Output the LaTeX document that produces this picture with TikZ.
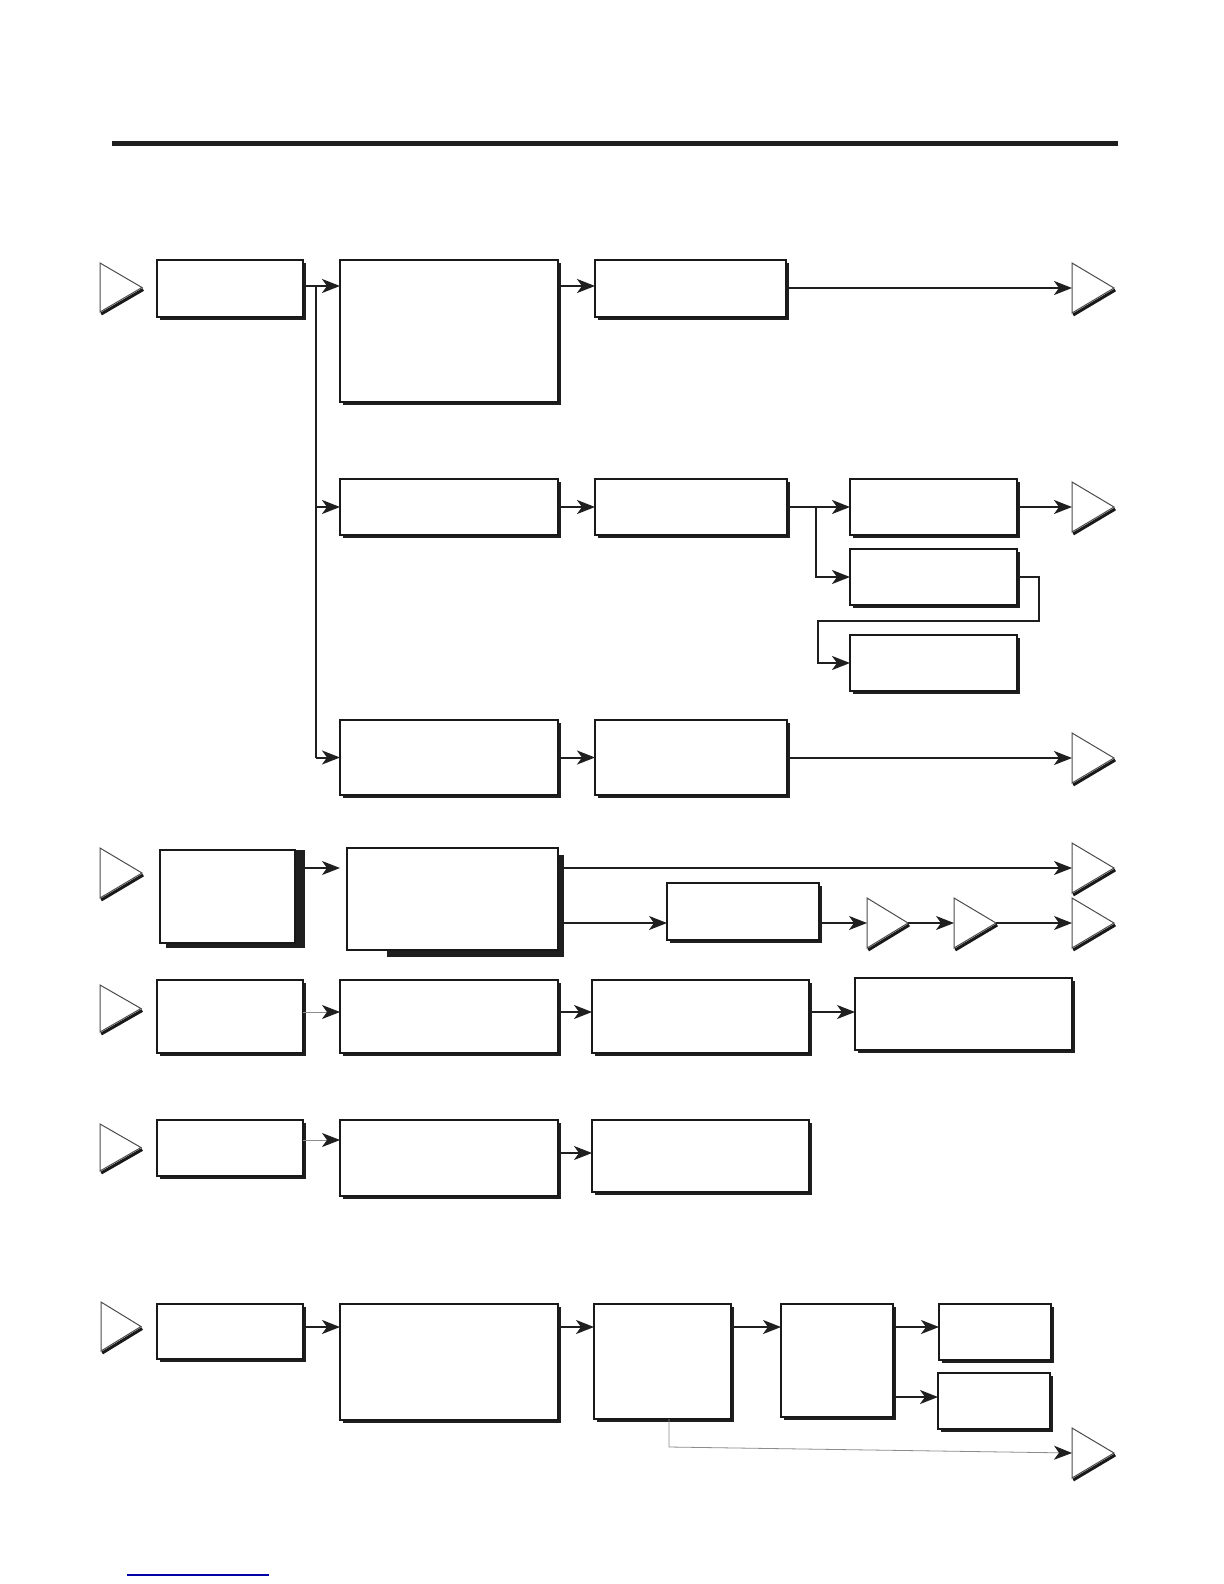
\documentclass[tikz,border=0pt]{standalone}
\usetikzlibrary{arrows.meta,shadows,calc}
\newcommand\mybox[6][box]{\node[#1, minimum width={(#5-#3)*0.5pt}, minimum height={(#6-#4)*0.5pt}] (#2) at ({(#3+#5)/2},{(#4+#6)/2}) {};}
\newcommand\mytri[5]{%
  \coordinate (#1) at (#2,{(#3+#5)/2});
  \coordinate (#1-tip) at (#4,{(#3+#5)/2});
  \draw[line width=1.5pt, black!90, xshift=0.6pt, yshift=-1pt] (#2,#5) -- (#4,{(#3+#5)/2});
  \filldraw[fill=white, draw=black!70, line width=0.5pt] (#2,#3) -- (#4,{(#3+#5)/2}) -- (#2,#5) -- cycle;}
\begin{document}
\begin{tikzpicture}[x=0.5pt,y=-0.5pt,
  box/.style={draw=black!90, line width=0.6pt, fill=white, inner sep=0pt, outer sep=0pt,
    drop shadow={shadow xshift=1.7pt, shadow yshift=-1.7pt, fill=black!88, opacity=1}},
  plain/.style={draw=black!90, line width=0.6pt, fill=white, inner sep=0pt, outer sep=0pt},
  conn/.style={line width=1pt, draw=black!88},
  arr/.style={conn, -{Stealth[length=9pt,width=7pt,inset=2.5pt]}},
  arrthin/.style={line width=0.6pt, draw=black!88, -{Stealth[length=9pt,width=7pt,inset=2.5pt]}},
  greyarr/.style={line width=0.4pt, draw=black!45, -{Stealth[length=9pt,width=7pt,inset=2.5pt,black!88]}}]
\useasboundingbox (0,0) rectangle (1224,1584);
\fill[white] (0,0) rectangle (1224,1584);

% top rule
\draw[line width=2.5pt, black!88] (112,143.5) -- (1118,143.5);

% ---------- row 1 ----------
\mytri{t1}{100}{263}{142}{312}
\mybox{b11}{157}{260}{303}{317}
\mybox{b12}{340}{260}{558}{402}
\mybox{b13}{595}{260}{786}{317}
\mytri{t1o}{1072}{263}{1114}{313}

% ---------- row 2 ----------
\mybox{b21}{340}{479}{558}{535}
\mybox{b22}{595}{479}{787}{535}
\mybox{b23}{850}{479}{1017}{535}
\mybox{b24}{850}{549}{1017}{605}
\mybox{b25}{850}{635}{1017}{691}
\mytri{t2}{1072}{482}{1114}{532}

% ---------- row 3 ----------
\mybox{b31}{340}{720}{558}{795}
\mybox{b32}{595}{720}{787}{795}
\mytri{t3}{1072}{733}{1114}{783}

% connectors rows 1-3
\coordinate (J) at (316,286);
\draw[arr] (b11.east |- J) -- (b12.west |- J);
\draw[conn] (J) -- (J |- b31.west);
\draw[arr] (J |- b21.west) -- (b21.west);
\draw[arr] (J |- b31.west) -- (b31.west);
\draw[arr] (b12.east |- J) -- (b13.west |- J);
\draw[arr] (b13.east |- t1o) -- (t1o);

\coordinate (K) at (816,507);
\coordinate (L1) at (1039,621);
\coordinate (L2) at (818,621);
\draw[arr] (b21.east) -- (b22.west);
\draw[arr] (b22.east) -- (b23.west);
\draw[arr] (K) |- (b24.west);
\draw[arr] (b23.east) -- (t2);
\draw[arr] (b24.east) -| (L1) -- (L2) |- (b25.west);

\draw[arr] (b31.east) -- (b32.west);
\draw[arr] (b32.east |- t3) -- (t3);

% ---------- row 4 ----------
\mytri{t4}{100}{848}{142}{898}
\fill[black!88] (166,850) rectangle (305,948);
\mybox[plain]{b41}{160}{850}{295}{943}
\fill[black!88] (387,855) rectangle (564,957);
\mybox[plain]{b42}{347}{848}{558}{950}
\mybox{b43}{667}{883}{819}{940}
\mytri{t5}{1072}{843}{1114}{893}
\mytri{t6}{867}{898}{908}{948}
\mytri{t7}{954}{898}{996}{948}
\mytri{t8}{1072}{898}{1114}{948}
\coordinate (a4) at (340,868);
\draw[arrthin] (b41.east |- a4) -- (a4);
\draw[arrthin] (b42.east |- t5) -- (t5);
\draw[arrthin] (b42.east |- t6) -- (b43.west |- t6);
\draw[arrthin] (b43.east |- t6) -- (t6);
\draw[arrthin] (t6-tip) -- (t7);
\draw[arrthin] (t7-tip) -- (t8);

% ---------- row 5 ----------
\mytri{t9}{100}{985}{141}{1032}
\mybox{b51}{157}{980}{303}{1053}
\mybox{b52}{340}{980}{558}{1053}
\mybox{b53}{592}{980}{809}{1053}
\mybox{b54}{855}{978}{1072}{1050}
\coordinate (y5) at (0,1012);
\draw[greyarr] (b51.east |- y5) -- (b52.west |- y5);
\draw[arrthin] (b52.east |- y5) -- (b53.west |- y5);
\draw[arrthin] (b53.east |- y5) -- (b54.west |- y5);

% ---------- row 6 ----------
\mytri{t10}{100}{1124}{141}{1171}
\mybox{b61}{157}{1120}{303}{1176}
\mybox{b62}{340}{1120}{558}{1196}
\mybox{b63}{592}{1120}{809}{1192}
\coordinate (y6a) at (0,1140);
\coordinate (y6b) at (0,1153);
\draw[greyarr] (b61.east |- y6a) -- (b62.west |- y6a);
\draw[arrthin] (b62.east |- y6b) -- (b63.west |- y6b);

% ---------- row 7 ----------
\mytri{t11}{101}{1302}{141}{1351}
\mybox{b71}{157}{1304}{303}{1359}
\mybox{b72}{340}{1304}{558}{1420}
\mybox{b73}{594}{1304}{731}{1419}
\mybox{b74}{781}{1304}{893}{1417}
\mybox{b75}{939}{1304}{1051}{1360}
\mybox{b76}{938}{1373}{1050}{1429}
\mytri{t12}{1072}{1428}{1114}{1478}
\coordinate (y7) at (0,1327);
\coordinate (y7b) at (0,1397);
\coordinate (g1) at (669,1447);
\draw[arr] (b71.east |- y7) -- (b72.west |- y7);
\draw[arr] (b72.east |- y7) -- (b73.west |- y7);
\draw[arr] (b73.east |- y7) -- (b74.west |- y7);
\draw[arr] (b74.east |- y7) -- (b75.west |- y7);
\draw[arr] (b74.east |- y7b) -- (b76.west |- y7b);
\draw[greyarr] (b73.south -| g1) -- (g1) -- (t12);

% bottom blue rule
\draw[blue!65!black, line width=0.6pt] (127,1575) -- (269,1575);
\end{tikzpicture}
\end{document}
